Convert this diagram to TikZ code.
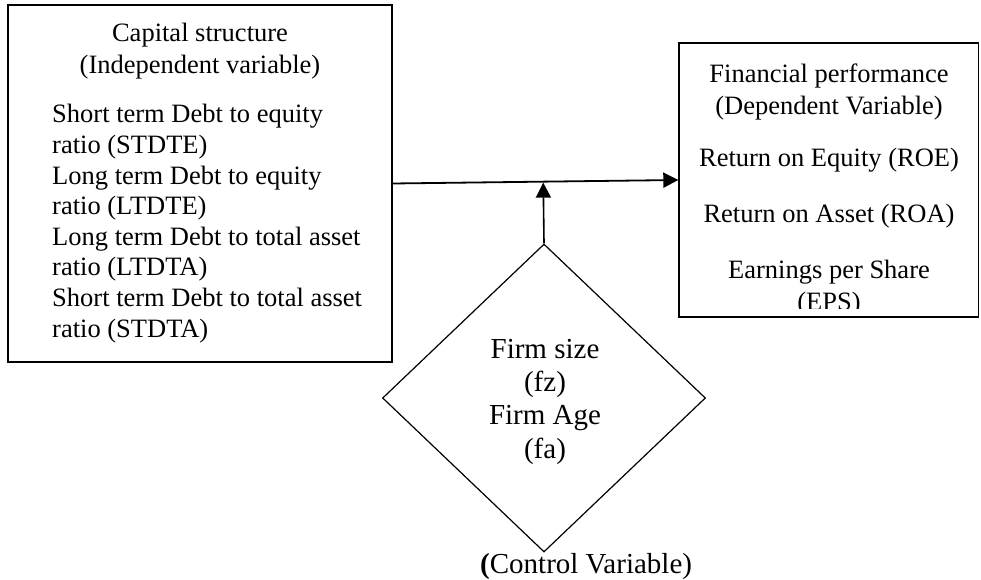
\documentclass[tikz,border=0pt]{standalone}
\usepackage{fontspec}
\setmainfont{Liberation Serif}
\usetikzlibrary{shapes.geometric,arrows.meta,calc}
\begin{document}
\begin{tikzpicture}[x=1pt,y=-1pt,
  frame/.style={draw,line width=1.4pt,inner sep=0pt},
  boxtext/.style={inner sep=0pt,font=\fontsize{26.5}{32}\selectfont},
  listtext/.style={inner sep=0pt,font=\fontsize{26.5}{30.6}\selectfont,align=left},
  ctrltext/.style={inner sep=0pt,font=\fontsize{29}{33.3}\selectfont},
  linktip/.style={-{Triangle[length=15pt,width=15pt]},line width=1.8pt},
]
\useasboundingbox[fill=white] (0,0) rectangle (981,580);

% Independent variable block (multi-line nodes sit on their last baseline)
\node[frame,minimum width=384pt,minimum height=357pt] (cap) at (200,183.5) {};
\node[boxtext,align=center,anchor=base] (capTitle) at (200,74)
  {Capital structure\\(Independent variable)};
\node[listtext,anchor=base west] (capList) at (52,337)
  {Short term Debt to equity\\ratio (STDTE)\\Long term Debt to equity\\ratio (LTDTE)\\Long term Debt to total asset\\ratio (LTDTA)\\Short term Debt to total asset\\ratio (STDTA)};

% Dependent variable block (last line is cut off by the frame margin)
\node[frame,minimum width=299.5pt,minimum height=274pt] (perf) at (828.75,180) {};
\begin{scope}
  \clip (perf.north west) rectangle ($(perf.south east)+(0,-9)$);
  \node[boxtext,align=center,anchor=base] (perfTitle) at (829,115)
    {Financial performance\\(Dependent Variable)};
  \node[boxtext,anchor=base] (roe) at (829,167) {Return on Equity (ROE)};
  \node[boxtext,anchor=base] (roa) at (829,222) {Return on Asset (ROA)};
  \node[boxtext,align=center,anchor=base] (eps) at (829,310)
    {Earnings per Share\\(EPS)};
\end{scope}

% Control variables
\node[draw,line width=1.2pt,shape=diamond,minimum width=323pt,minimum height=308pt,
      inner sep=0pt] (ctrl) at (544,398) {};
\node[ctrltext,align=center,anchor=base] (ctrlText) at (545,458)
  {Firm size\\(fz)\\Firm Age\\(fa)};
\node[ctrltext,anchor=base west] (ctrlLabel) at (480,573)
  {\textbf{(}Control Variable)};

% Connectors
\draw[linktip] (cap.east) -- (perf.west);
\coordinate (meet) at ($(cap.east)!(ctrl.north)!(perf.west)$);
\draw[linktip,line width=1.6pt,shorten >=1pt] (ctrl.north) -- (meet);
\end{tikzpicture}
\end{document}
